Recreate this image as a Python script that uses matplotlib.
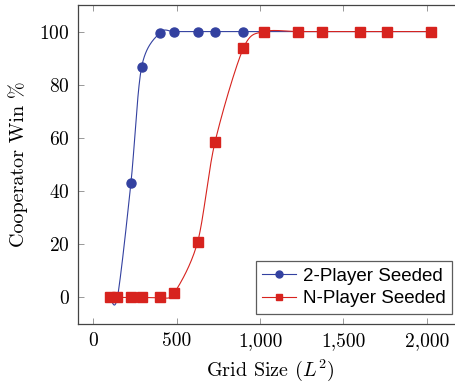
import numpy as np
import matplotlib
matplotlib.use('Agg')
import matplotlib.pyplot as plt

plt.rcParams['font.family'] = 'cmr10'
plt.rcParams['mathtext.fontset'] = 'cm'
plt.rcParams['axes.formatter.use_mathtext'] = True

# グリッドサイズ (L^2)
grid_size = [100, 144, 225, 289, 400, 484, 625, 729, 900, 1024, 1225, 1369, 1600, 1764, 2025]
two_player = [0, 0, 43.0, 86.6, 99.6, 100, 100, 100, 100, 100, 100, 100, 100, 100, 100]
n_player = [0, 0, 0, 0, 0, 1.6, 20.8, 58.3, 93.8, 100, 100, 100, 100, 100, 100]

blue = '#3341a0'
red = '#d7231e'

fig = plt.figure(figsize=(4.55, 3.85), dpi=100)
ax = fig.add_axes([78 / 455, 61 / 385, 385 / 455, 319 / 385])
xlim = (-92.5, 2217.5)
ylim = (-10, 110)
ax.set_xlim(*xlim)
ax.set_ylim(*ylim)

W, H = 385.0, 319.0


def smooth(xs, ys, tension=0.15, n=30):
    '''pgfplots の smooth に近い曲線 (画面座標で計算)'''
    sx = W / (xlim[1] - xlim[0])
    sy = H / (ylim[1] - ylim[0])
    P = np.column_stack([np.array(xs) * sx, np.array(ys) * sy])
    m = len(P)
    out = [P[0]]
    t = np.linspace(0, 1, n)[1:, None]
    for i in range(m - 1):
        p0, p3 = P[i], P[i + 1]
        prev = P[i - 1] if i > 0 else P[i]
        nxt = P[i + 2] if i + 2 < m else P[i + 1]
        c1 = p0 + tension * (p3 - prev)
        c2 = p3 - tension * (nxt - p0)
        seg = ((1 - t) ** 3) * p0 + 3 * ((1 - t) ** 2) * t * c1 + 3 * (1 - t) * t ** 2 * c2 + t ** 3 * p3
        out.extend(seg)
    out = np.array(out)
    return out[:, 0] / sx, out[:, 1] / sy


bx, by = smooth(grid_size, two_player)
ax.plot(bx, by, color=blue, lw=0.8, zorder=2)
ax.plot(grid_size, two_player, 'o', color=blue, ms=6.5, zorder=3)
ax.plot([], [], '-o', color=blue, lw=0.8, ms=5, label='2-Player Seeded')

rx, ry = smooth(grid_size, n_player)
ax.plot(rx, ry, color=red, lw=0.8, zorder=4)
ax.plot(grid_size, n_player, 's', color=red, ms=6.5, zorder=5)
ax.plot([], [], '-s', color=red, lw=0.8, ms=5, label='N-Player Seeded')

ax.set_xticks([0, 500, 1000, 1500, 2000])
ax.set_xticklabels(['0', '500', '1,000', '1,500', '2,000'])
ax.set_yticks([0, 20, 40, 60, 80, 100])
ax.tick_params(direction='in', length=4.5, width=0.6, color='#888888',
               top=True, right=True, labelsize=14, pad=6)
for s in ax.spines.values():
    s.set_color('#444444')
    s.set_linewidth(0.9)

ax.set_xlabel('Grid Size ($L^2$)', fontsize=14.5, labelpad=5)
ax.set_ylabel('Cooperator Win %', fontsize=14.5, labelpad=8)

leg = ax.legend(loc='lower right', bbox_to_anchor=(452 / 455, 71 / 385),
                bbox_transform=fig.transFigure,
                prop={'family': 'Liberation Sans', 'size': 13.5},
                frameon=True, fancybox=False, edgecolor='#333333',
                borderpad=0.35, labelspacing=0.3, handlelength=1.8,
                handletextpad=0.35, borderaxespad=0)
leg.get_frame().set_linewidth(0.9)

fig.savefig('out.png', dpi=100)
